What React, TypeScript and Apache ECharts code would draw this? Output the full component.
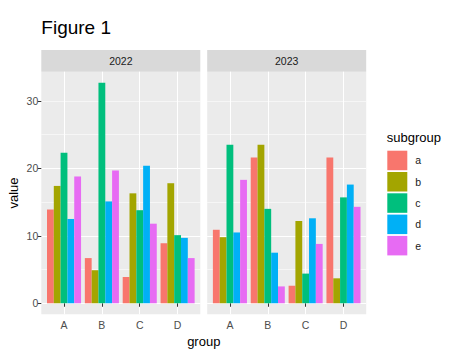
import React, { useEffect, useRef } from "react";
import * as echarts from "echarts";

const categories = ["A", "B", "C", "D"];
const subgroups = ["a", "b", "c", "d", "e"];
const years = ["2022", "2023"];
const colors = ["#F8766D", "#A3A500", "#00BF7D", "#00B0F6", "#E76BF3"];

// values per subgroup, across categories A..D
const a2022 = [13.9, 6.7, 3.9, 8.9];
const b2022 = [17.4, 4.9, 16.3, 17.8];
const c2022 = [22.3, 32.7, 13.8, 10.1];
const d2022 = [12.5, 15.1, 20.4, 9.7];
const e2022 = [18.8, 19.7, 11.8, 6.7];

const a2023 = [10.9, 21.6, 2.6, 21.6];
const b2023 = [9.8, 23.5, 12.2, 3.7];
const c2023 = [23.5, 14.0, 4.4, 15.7];
const d2023 = [10.5, 7.5, 12.6, 17.6];
const e2023 = [18.3, 2.5, 8.8, 14.3];

const yTicks = [0, 10, 20, 30];

const valuesByYear = [
  [a2022, b2022, c2022, d2022, e2022],
  [a2023, b2023, c2023, d2023, e2023],
];

const FONT = "'Liberation Sans', Arial, Helvetica, sans-serif";
const SMALL = 10.5;
const TITLE = 13;

export default function App() {
  const ref = useRef<HTMLDivElement>(null);
  useEffect(() => {
    if (!ref.current) return;
    const chart = echarts.init(ref.current, undefined, { renderer: "svg" });

    const dataMax = Math.max(...valuesByYear.flat(2));
    const yMax = dataMax * 1.05;
    const yMin = -dataMax * 0.05;

    const panelLeft = [41.3, 207.2];
    const panelW = 159;
    const panelTop = 71.7;
    const panelH = 242.6;
    const unit = panelW / (categories.length + 0.2);
    const barInset = unit * 0.1;
    const linesH = (panelH * yMax) / (yMax - yMin);

    const grids: any[] = [];
    const xAxes: any[] = [];
    const yAxes: any[] = [];
    const series: any[] = [];
    const graphics: any[] = [];

    years.forEach((yr, p) => {
      const L = panelLeft[p];
      grids.push({
        left: L, top: panelTop, width: panelW, height: panelH,
        show: true, backgroundColor: "#EBEBEB", borderWidth: 0, z: 0,
      });
      grids.push({ left: L, top: panelTop, width: panelW, height: linesH, z: 0 });
      grids.push({
        left: L + barInset, top: panelTop, width: panelW - 2 * barInset, height: panelH, z: 0,
      });

      xAxes.push({ gridIndex: 3 * p, type: "value", show: false });
      xAxes.push({ gridIndex: 3 * p + 1, type: "value", show: false });
      xAxes.push({
        gridIndex: 3 * p + 2,
        type: "category",
        data: categories,
        position: "bottom",
        z: 1,
        axisLine: { show: false },
        axisTick: { show: true, alignWithLabel: true, length: 3.5, lineStyle: { color: "#333333", width: 1 } },
        axisLabel: { color: "#4D4D4D", fontSize: SMALL, margin: 5, fontFamily: FONT },
        splitLine: { show: false },
      });
      xAxes.push({
        gridIndex: 3 * p + 2,
        type: "category",
        boundaryGap: false,
        data: ["0", "1", "2", "3", "4", "5", "6", "7", "8"],
        position: "top",
        z: 1,
        axisLine: { show: false },
        axisTick: { show: false },
        axisLabel: { show: false },
        splitLine: {
          show: true,
          interval: (i: number) => i % 2 === 1,
          lineStyle: { color: "#FFFFFF", width: 1.1 },
        },
      });

      yAxes.push({ gridIndex: 3 * p, type: "value", show: false, min: 0, max: 1 });
      yAxes.push({
        gridIndex: 3 * p + 1,
        type: "value",
        min: 0,
        max: yMax,
        interval: 10,
        z: 1,
        axisLine: { show: false },
        axisTick: {
          show: p === 0, length: 3.5, customValues: yTicks,
          lineStyle: { color: "#333333", width: 1 },
        },
        axisLabel: {
          show: p === 0, customValues: yTicks,
          color: "#4D4D4D", fontSize: SMALL, margin: 3, fontFamily: FONT,
        },
        splitLine: { show: true, showMaxLine: false, lineStyle: { color: "#FFFFFF", width: 1.1 } },
      });
      yAxes.push({
        gridIndex: 3 * p + 1,
        type: "value",
        min: 0,
        max: yMax,
        interval: 5,
        z: 1,
        axisLine: { show: false },
        axisTick: { show: false },
        axisLabel: { show: false },
        splitLine: { show: true, showMaxLine: false, lineStyle: { color: "#FFFFFF", width: 0.55 } },
      });
      yAxes.push({ gridIndex: 3 * p + 2, type: "value", show: false, min: yMin, max: yMax });

      subgroups.forEach((s, k) => {
        series.push({
          type: "bar",
          name: s,
          xAxisIndex: 4 * p + 2,
          yAxisIndex: 4 * p + 3,
          data: valuesByYear[p][k],
          itemStyle: { color: colors[k] },
          barGap: "0%",
          barCategoryGap: "10%",
          z: 2,
        });
      });

      graphics.push({
        type: "rect",
        shape: { x: L, y: 50, width: panelW, height: panelTop - 50 },
        style: { fill: "#D9D9D9" },
        z: 0,
      });
      graphics.push({
        type: "text",
        x: L + panelW / 2,
        y: (50 + panelTop) / 2,
        style: {
          text: yr, fill: "#1A1A1A", fontSize: SMALL, fontFamily: FONT,
          align: "center", verticalAlign: "middle",
        },
        z: 1,
      });
    });

    graphics.push({
      type: "text", x: 41.3, y: 27,
      style: { text: "Figure 1", fill: "#000000", fontSize: 19, fontFamily: FONT, align: "left", verticalAlign: "middle" },
    });
    graphics.push({
      type: "text", x: 13, y: panelTop + panelH / 2, rotation: Math.PI / 2,
      style: { text: "value", fill: "#000000", fontSize: TITLE, fontFamily: FONT, align: "center", verticalAlign: "middle" },
    });
    graphics.push({
      type: "text", x: (panelLeft[0] + panelLeft[1] + panelW) / 2, y: 341,
      style: { text: "group", fill: "#000000", fontSize: TITLE, fontFamily: FONT, align: "center", verticalAlign: "middle" },
    });
    graphics.push({
      type: "text", x: 386.7, y: 137,
      style: { text: "subgroup", fill: "#000000", fontSize: TITLE, fontFamily: FONT, align: "left", verticalAlign: "middle" },
    });

    chart.setOption({
      animation: false,
      backgroundColor: "#FFFFFF",
      textStyle: { fontFamily: FONT },
      grid: grids,
      xAxis: xAxes,
      yAxis: yAxes,
      series,
      legend: {
        data: subgroups,
        orient: "vertical",
        left: 387.3,
        top: 150.7,
        padding: 0,
        itemWidth: 20,
        itemHeight: 19.5,
        itemGap: 1.8,
        icon: "rect",
        selectedMode: false,
        textStyle: { fontSize: SMALL, color: "#1A1A1A", fontFamily: FONT, padding: [0, 0, 0, 3] },
      },
      graphic: graphics,
    });
    return () => chart.dispose();
  }, []);
  return (
    <div
      ref={ref}
      style={{ position: "fixed", left: 0, top: 0, width: 474, height: 355 }}
    />
  );
}
